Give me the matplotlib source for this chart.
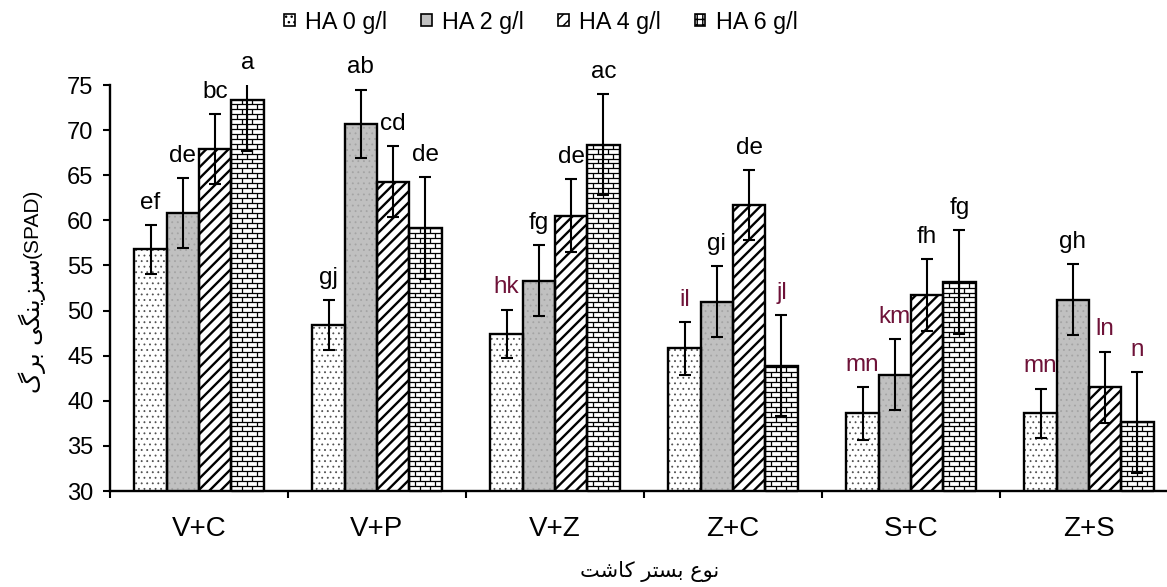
import matplotlib
matplotlib.use('Agg')
import matplotlib.pyplot as plt
import numpy as np
from matplotlib.patches import Rectangle
from matplotlib.collections import LineCollection
from matplotlib import font_manager
from matplotlib.ft2font import FT2Font

# ---------------- data ----------------
categories = ['V+C', 'V+P', 'V+Z', 'Z+C', 'S+C', 'Z+S']
series_names = ['HA 0 g/l', 'HA 2 g/l', 'HA 4 g/l', 'HA 6 g/l']
ha0 = [56.8, 48.4, 47.4, 45.8, 38.6, 38.6]
ha2 = [60.8, 70.7, 53.3, 51.0, 42.9, 51.2]
ha4 = [67.9, 64.3, 60.5, 61.7, 51.7, 41.5]
ha6 = [73.3, 59.1, 68.4, 43.9, 53.2, 37.6]
err0 = [2.7, 2.8, 2.7, 2.9, 2.9, 2.75]
err2 = [3.9, 3.8, 3.95, 3.95, 3.95, 3.95]
err4 = [3.9, 3.9, 4.05, 3.9, 4.0, 3.95]
err6 = [5.6, 5.65, 5.6, 5.6, 5.75, 5.6]
let0 = ['ef', 'gj', 'hk', 'il', 'mn', 'mn']
let2 = ['de', 'ab', 'fg', 'gi', 'km', 'gh']
let4 = ['bc', 'cd', 'de', 'de', 'fh', 'ln']
let6 = ['a', 'de', 'ac', 'jl', 'fg', 'n']
y_ticks = [30, 35, 40, 45, 50, 55, 60, 65, 70, 75]
xlabel_fa = 'نوع بستر کاشت'
ylabel_fa = 'سبزینگی برگ'
ylabel_unit = '(SPAD)'

# ---------------- minimal Persian shaping ----------------
dv_path = font_manager.findfont('DejaVu Sans')
cmap = FT2Font(dv_path).get_charmap()
FORMS = {
    '\u0627': (0xFE8D, 0xFE8E, None, None),
    '\u0628': (0xFE8F, 0xFE90, 0xFE91, 0xFE92),
    '\u062A': (0xFE95, 0xFE96, 0xFE97, 0xFE98),
    '\u0631': (0xFEAD, 0xFEAE, None, None),
    '\u0632': (0xFEAF, 0xFEB0, None, None),
    '\u0633': (0xFEB1, 0xFEB2, 0xFEB3, 0xFEB4),
    '\u0634': (0xFEB5, 0xFEB6, 0xFEB7, 0xFEB8),
    '\u0639': (0xFEC9, 0xFECA, 0xFECB, 0xFECC),
    '\u0646': (0xFEE5, 0xFEE6, 0xFEE7, 0xFEE8),
    '\u0648': (0xFEED, 0xFEEE, None, None),
    '\u06CC': (0xFBFC, 0xFBFD, 0xFBFE, 0xFBFF),
    '\u06AF': (0xFB92, 0xFB93, 0xFB94, 0xFB95),
    '\u06A9': (0xFB8E, 0xFB8F, 0xFB90, 0xFB91),
}
FALLBACK = {
    '\u06CC': (0xFEEF, 0xFEF0, 0xFEF3, 0xFEF4),
    '\u06AF': (0xFED9, 0xFEDA, 0xFEDB, 0xFEDC),
    '\u06A9': (0xFED9, 0xFEDA, 0xFEDB, 0xFEDC),
}


def shape(text):
    def dual(c):
        return c in FORMS and FORMS[c][2] is not None
    out = []
    n = len(text)
    for i, c in enumerate(text):
        if c not in FORMS:
            out.append(c)
            continue
        pj = i > 0 and dual(text[i - 1])
        nj = i < n - 1 and text[i + 1] in FORMS and dual(c)
        idx = 3 if (pj and nj) else 1 if pj else 2 if nj else 0
        cp = FORMS[c][idx]
        if cp not in cmap and c in FALLBACK:
            cp = FALLBACK[c][idx]
        out.append(chr(cp) if cp in cmap else c)
    return ''.join(reversed(out))


plt.rcParams['font.family'] = ['Liberation Sans', 'DejaVu Sans']

W, H = 1167, 587
fig = plt.figure(figsize=(W / 100, H / 100), dpi=100)
ax = fig.add_axes([110 / W, 1 - 491 / H, (1178 - 110) / W, (491 - 85) / H])

x = np.arange(len(categories))
w = 0.1816
offsets = (np.arange(4) - 1.5) * w
values = [ha0, ha2, ha4, ha6]
errors = [err0, err2, err4, err6]
letters = [let0, let2, let4, let6]
faces = ['white', '#c0c0c0', 'white', 'white']
hatches = ['...', '...', '///', None]
hatch_cols = ['#505050', '#a4a4a4', 'black', None]
maroon = '#6e1238'
dark_letters = {'hk', 'il', 'jl', 'mn', 'km', 'ln', 'n'}

for s in range(4):
    xs = x + offsets[s]
    fill = ax.bar(xs, values[s], w, color=faces[s], edgecolor='none', linewidth=0, zorder=2)
    if hatches[s]:
        hb = ax.bar(xs, values[s], w, facecolor='none', edgecolor=hatch_cols[s],
                    linewidth=0, hatch=hatches[s], zorder=2.2)
        for p in hb.patches:
            if hasattr(p, 'set_hatch_linewidth'):
                p.set_hatch_linewidth(1.7 if hatches[s] == '///' else 0.6)
    else:
        # brick pattern drawn inside each bar
        for rect in fill.patches:
            x0 = rect.get_x()
            bw = rect.get_width()
            top = rect.get_height()
            dy = 0.55
            brick = bw / 3.1
            segs = []
            for k, yk in enumerate(np.arange(30, top + dy, dy)):
                segs.append([(x0, yk), (x0 + bw, yk)])
                start = x0 + (brick / 2 if k % 2 else 0)
                for xv in np.arange(start, x0 + bw + brick, brick):
                    segs.append([(xv, yk), (xv, yk + dy)])
            lc = LineCollection(segs, colors='black', linewidths=0.9, zorder=2.3)
            ax.add_collection(lc, autolim=False)
            lc.set_clip_path(rect)
    ax.bar(xs, values[s], w, facecolor='none', edgecolor='black', linewidth=1.7, zorder=3)
    ax.errorbar(xs, values[s], yerr=errors[s], fmt='none', ecolor='black',
                elinewidth=1.5, capsize=4.5, capthick=1.5, zorder=4)
    for xi, v, e, t in zip(xs, values[s], errors[s], letters[s]):
        ytop = min(v + e, 75)
        ax.annotate(t, (xi, ytop), xytext=(0, 16), textcoords='offset points',
                    ha='center', va='center', fontsize=17.5,
                    color=maroon if t in dark_letters else 'black',
                    annotation_clip=False, zorder=5)

ax.set_xlim(-0.5, 5.5)
ax.set_ylim(30, 75)
ax.set_yticks(y_ticks)
ax.set_xticks(x)
ax.set_xticklabels(categories)
ax.set_xticks(np.arange(-0.5, 6, 1), minor=True)
ax.tick_params(axis='x', which='major', length=0, pad=18, labelsize=20)
ax.tick_params(axis='x', which='minor', length=5, width=1.5, direction='out')
ax.tick_params(axis='y', length=5, width=1.5, direction='out', pad=7, labelsize=17)
for sp in ['top', 'right']:
    ax.spines[sp].set_visible(False)
for sp in ['left', 'bottom']:
    ax.spines[sp].set_linewidth(1.7)

# legend
leg_hatch = ['...', None, '///', '+++']
handles = [Rectangle((0, 0), 1, 1, facecolor=faces[i], edgecolor='black',
                     hatch=leg_hatch[i], linewidth=1.2) for i in range(4)]
fig.legend(handles, series_names, loc='center', bbox_to_anchor=(541 / W, 1 - 22 / H),
           bbox_transform=fig.transFigure, ncol=4, frameon=False, fontsize=16.8,
           handlelength=0.45, handleheight=0.45, handletextpad=0.45,
           columnspacing=1.45, borderpad=0, borderaxespad=0)

# axis titles
fig.text(32 / W, 1 - 258 / H, shape(ylabel_fa), rotation=90, ha='center', va='top',
         fontsize=17, family='DejaVu Sans')
fig.text(32 / W, 1 - 258 / H, ylabel_unit, rotation=90, ha='center', va='bottom',
         fontsize=15)
fig.text(650 / W, 1 - 572 / H, shape(xlabel_fa), ha='center', va='center',
         fontsize=15, family='DejaVu Sans')

fig.savefig('out.png', dpi=100)
